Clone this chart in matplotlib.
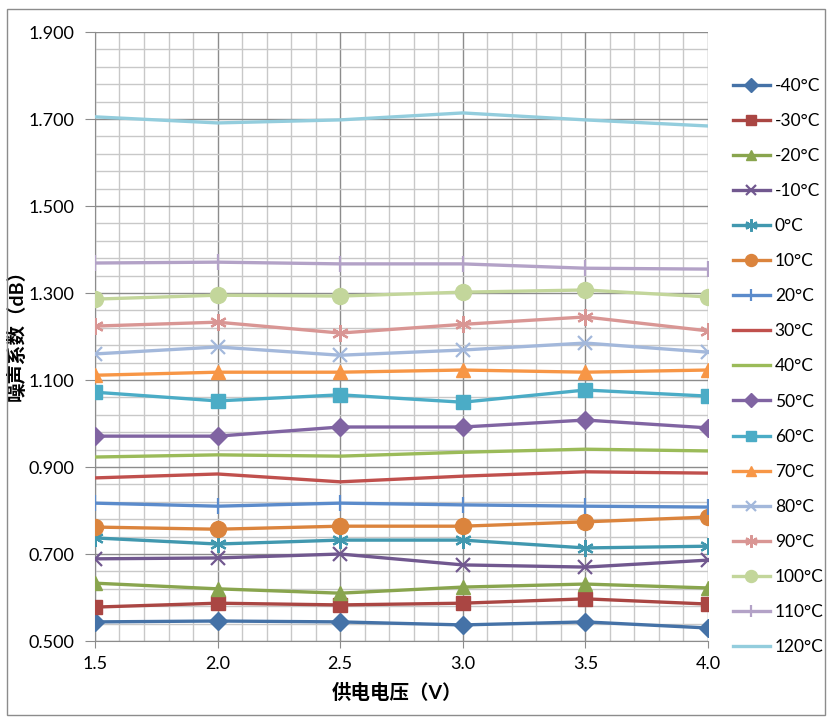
import numpy as np
import matplotlib.pyplot as plt
from matplotlib.patches import Rectangle
from matplotlib.ticker import FixedLocator, FormatStrFormatter

plt.rcParams['font.family'] = ['Lato', 'Noto Sans CJK SC', 'DejaVu Sans']

voltage = [1.5, 2.0, 2.5, 3.0, 3.5, 4.0]
temps = ['-40°C', '-30°C', '-20°C', '-10°C', '0°C', '10°C', '20°C', '30°C', '40°C',
         '50°C', '60°C', '70°C', '80°C', '90°C', '100°C', '110°C', '120°C']

nf_m40 = [0.544, 0.546, 0.544, 0.537, 0.544, 0.530]
nf_m30 = [0.578, 0.587, 0.583, 0.587, 0.597, 0.585]
nf_m20 = [0.633, 0.620, 0.610, 0.624, 0.631, 0.622]
nf_m10 = [0.689, 0.691, 0.700, 0.675, 0.670, 0.686]
nf_0 = [0.737, 0.723, 0.732, 0.732, 0.714, 0.718]
nf_10 = [0.762, 0.757, 0.764, 0.764, 0.774, 0.785]
nf_20 = [0.817, 0.810, 0.817, 0.813, 0.810, 0.808]
nf_30 = [0.875, 0.884, 0.866, 0.879, 0.889, 0.886]
nf_40 = [0.923, 0.928, 0.925, 0.934, 0.941, 0.937]
nf_50 = [0.971, 0.971, 0.992, 0.992, 1.008, 0.990]
nf_60 = [1.072, 1.052, 1.066, 1.049, 1.077, 1.063]
nf_70 = [1.111, 1.118, 1.118, 1.123, 1.118, 1.123]
nf_80 = [1.160, 1.176, 1.157, 1.169, 1.185, 1.164]
nf_90 = [1.224, 1.233, 1.208, 1.228, 1.245, 1.213]
nf_100 = [1.286, 1.295, 1.293, 1.302, 1.307, 1.291]
nf_110 = [1.369, 1.371, 1.367, 1.367, 1.357, 1.355]
nf_120 = [1.705, 1.691, 1.698, 1.714, 1.698, 1.684]

series = [nf_m40, nf_m30, nf_m20, nf_m10, nf_0, nf_10, nf_20, nf_30, nf_40,
          nf_50, nf_60, nf_70, nf_80, nf_90, nf_100, nf_110, nf_120]

colors = ['#4572A7', '#AA4643', '#89A54E', '#71588F', '#4198AF', '#DB843D',
          '#5B8BCB', '#C0504D', '#9BBB59', '#8064A2', '#4BACC6', '#F79646',
          '#A3B8DB', '#D99694', '#C3D69B', '#B3A2C7', '#93CDDD']
markers = ['D', 's', '^', 'x', '*', 'o', '|', None, None,
           'D', 's', '^', 'x', '*', 'o', '|', None]
msizes = [9.5, 10.5, 10.5, 10.5, 12, 11.5, 12, 0, 0, 9.5, 10.5, 10.5, 10.5, 12, 11.5, 12, 0]

fig = plt.figure(figsize=(8.28, 7.18), dpi=100)
ax = fig.add_axes([0.1147, 0.1072, 0.7403, 0.8482])

for vals, lab, c, m, ms in zip(series, temps, colors, markers, msizes):
    if m == '*':
        # asterisk: x with a vertical bar
        ax.plot(voltage, vals, color=c, lw=2.4, label=lab, marker=(6, 2, 0),
                ms=ms, mew=1.6, mec=c, zorder=3)
    elif m in ('x', '|'):
        ax.plot(voltage, vals, color=c, lw=2.4, label=lab, marker=m,
                ms=ms, mew=1.6, mec=c, zorder=3)
    elif m is None:
        ax.plot(voltage, vals, color=c, lw=2.4, label=lab, zorder=3)
    else:
        ax.plot(voltage, vals, color=c, lw=2.4, label=lab, marker=m,
                ms=ms, mec=c, mfc=c, zorder=3)

ax.set_xlim(1.5, 4.0)
ax.set_ylim(0.5, 1.9)
ax.xaxis.set_major_locator(FixedLocator(np.arange(1.5, 4.01, 0.5)))
ax.xaxis.set_minor_locator(FixedLocator(np.arange(1.5, 4.01, 0.1)))
ax.yaxis.set_major_locator(FixedLocator(np.arange(0.5, 1.91, 0.2)))
ax.yaxis.set_minor_locator(FixedLocator(np.arange(0.5, 1.91, 0.04)))
ax.xaxis.set_major_formatter(FormatStrFormatter('%.1f'))
ax.yaxis.set_major_formatter(FormatStrFormatter('%.3f'))
ax.grid(which='major', color='#8C8C8C', lw=1.0, zorder=0)
ax.grid(which='minor', color='#C8C8C8', lw=1.0, zorder=0)
ax.set_axisbelow(True)
ax.tick_params(which='minor', length=0)
ax.tick_params(axis='y', which='major', length=7, color='#8C8C8C', labelsize=13, pad=8)
ax.tick_params(axis='x', which='major', length=5, color='#8C8C8C', labelsize=13, pad=6)
for s in ['top', 'right']:
    ax.spines[s].set_visible(False)
for s in ['left', 'bottom']:
    ax.spines[s].set_color('#8C8C8C')

ax.set_xlabel('供电电压（V）', fontsize=14, fontweight='bold')
ax.set_ylabel('噪声系数（dB）', fontsize=14, fontweight='bold')
ax.xaxis.set_label_coords(0.493, -0.068)
ax.yaxis.set_label_coords(-0.113, 0.51)

ax.legend(loc='upper left', bbox_to_anchor=(1.041, 0.925), frameon=False,
          fontsize=12.5, markerscale=0.75, handlelength=2.1, handletextpad=0.3,
          labelspacing=1.1, borderaxespad=0, borderpad=0)

fig.patches.append(Rectangle((0.008, 0.004), 0.988, 0.984, transform=fig.transFigure,
                             fill=False, edgecolor='#8C8C8C', lw=1.0))

fig.savefig('out.png', dpi=100)
plt.close()
